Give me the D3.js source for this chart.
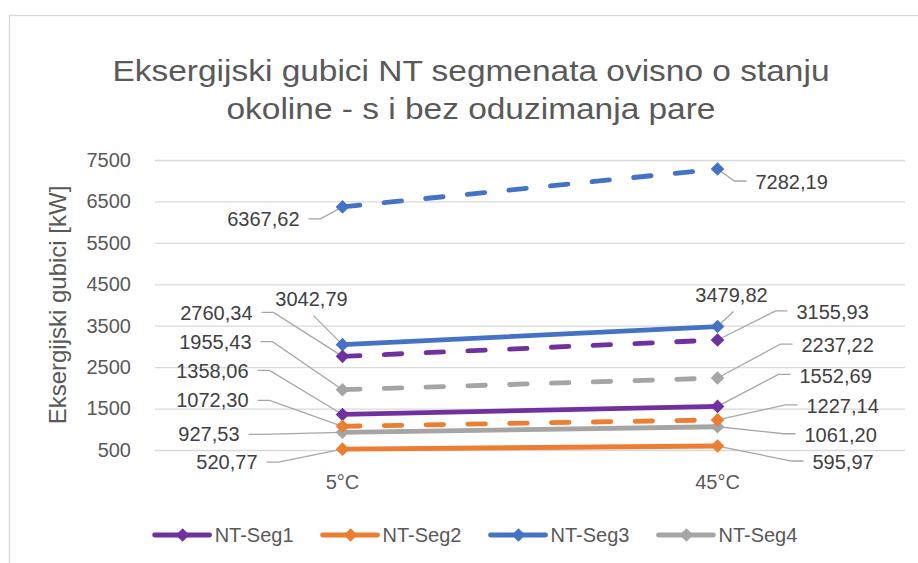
<!DOCTYPE html>
<html>
<head>
<meta charset="utf-8">
<script src="https://cdn.jsdelivr.net/npm/d3@7"></script>
<style>
  html, body { margin: 0; padding: 0; background: #fff; }
  svg { display: block; font-family: "Liberation Sans", Arial, sans-serif; }
</style>
</head>
<body>
<svg id="chart" width="918" height="563"></svg>
<script>
// Exergy losses of the NT segments at two ambient temperatures
const categories = ["5°C", "45°C"];
const seriesNames = ["NT-Seg1", "NT-Seg2", "NT-Seg3", "NT-Seg4"];
const seriesColors = ["#7030a0", "#ed7d31", "#4472c4", "#a5a5a5"];
// solid lines
const solidValues = [
  [1358.06, 1552.69],
  [520.77, 595.97],
  [3042.79, 3479.82],
  [927.53, 1061.20]
];
// dashed lines
const dashedValues = [
  [2760.34, 3155.93],
  [1072.30, 1227.14],
  [6367.62, 7282.19],
  [1955.43, 2237.22]
];
const yTicks = [500, 1500, 2500, 3500, 4500, 5500, 6500, 7500];
const titleLines = ["Eksergijski gubici NT segmenata ovisno o stanju", "okoline - s i bez oduzimanja pare"];
const yTitle = "Eksergijski gubici [kW]";

// Data-label placement: offset of the label from its marker, per series and category.
// side "l": text ends at dx; "r": text starts at dx; "t": text centred at dx above marker.
const solidLabelLayout = [
  [{side: "l", dx: -94, dy: -44}, {side: "r", dx: 82, dy: -31}],
  [{side: "l", dx: -85, dy: 13},  {side: "r", dx: 95, dy: 16}],
  [{side: "t", dx: -31, dy: -46}, {side: "t", dx: 14, dy: -32}],
  [{side: "l", dx: -103, dy: 2},  {side: "r", dx: 87, dy: 8}]
];
const dashedLabelLayout = [
  [{side: "l", dx: -90, dy: -44}, {side: "r", dx: 79, dy: -28}],
  [{side: "l", dx: -94, dy: -26}, {side: "r", dx: 89, dy: -14}],
  [{side: "l", dx: -43, dy: 12},  {side: "r", dx: 38, dy: 13}],
  [{side: "l", dx: -91, dy: -48}, {side: "r", dx: 84, dy: -33}]
];

const svg = d3.select("#chart");
const W = 918, H = 563;
const plot = {left: 155, right: 905, top: 160, bottom: 450};

const locale = d3.formatLocale({decimal: ",", thousands: "", grouping: [3], currency: ["", ""]});
const fmt = locale.format(".2f");

// chart area frame
svg.append("rect")
  .attr("x", 9.5).attr("y", 15.5)
  .attr("width", W + 20).attr("height", H + 20)
  .attr("fill", "#fff").attr("stroke", "#d9d9d9").attr("stroke-width", 1.3);

// title, condensed slightly so the first line spans 717px
const title = svg.append("g").attr("fill", "#595959");
const titleTexts = titleLines.map((t, i) =>
  title.append("text")
    .attr("x", 471).attr("y", 81 + i * 38)
    .attr("text-anchor", "middle")
    .attr("font-size", 30)
    .text(t)
);
const squeeze = 717 / titleTexts[0].node().getComputedTextLength();
titleTexts.forEach(t => {
  const n = t.node().getComputedTextLength();
  t.attr("textLength", n * squeeze).attr("lengthAdjust", "spacingAndGlyphs");
});

const x = d3.scaleBand().domain(categories).range([plot.left, plot.right]);
const y = d3.scaleLinear().domain([500, 7500]).range([plot.bottom, plot.top]);
const cx = c => x(c) + x.bandwidth() / 2;

// gridlines + y axis labels
const yAxis = d3.axisLeft(y).tickValues(yTicks).tickSize(-(plot.right - plot.left)).tickPadding(24).tickFormat(d3.format("d"));
const gy = svg.append("g").attr("transform", `translate(${plot.left},0)`).call(yAxis);
gy.select(".domain").remove();
gy.selectAll(".tick line").attr("stroke", "#d9d9d9").attr("stroke-width", 1.3);
gy.selectAll(".tick text").attr("fill", "#595959").attr("font-size", 20).attr("font-family", null);

// x axis labels
const xAxis = d3.axisBottom(x).tickSize(0).tickPadding(25);
const gx = svg.append("g").attr("transform", `translate(0,${plot.bottom})`).call(xAxis);
gx.select(".domain").remove();
gx.selectAll(".tick text").attr("fill", "#595959").attr("font-size", 20).attr("font-family", null);

// y axis title
svg.append("text")
  .attr("transform", `translate(66,${(plot.top + plot.bottom) / 2}) rotate(-90)`)
  .attr("text-anchor", "middle")
  .attr("fill", "#595959")
  .attr("font-size", 24)
  .text(yTitle);

const line = d3.line().x(d => cx(d.cat)).y(d => y(d.v));
const diamond = (r) => `M0,${-r}L${r},0L0,${r}L${-r},0Z`;

function drawSeries(values, dashed) {
  values.forEach((vals, i) => {
    const pts = vals.map((v, j) => ({cat: categories[j], v}));
    const g = svg.append("g");
    g.append("path")
      .datum(pts)
      .attr("d", line)
      .attr("fill", "none")
      .attr("stroke", seriesColors[i])
      .attr("stroke-width", 4.8)
      .attr("stroke-linecap", "round")
      .attr("stroke-dasharray", dashed ? "17.5 24.3" : null);
    g.selectAll("path.marker")
      .data(pts).join("path")
      .attr("class", "marker")
      .attr("transform", d => `translate(${cx(d.cat)},${y(d.v)})`)
      .attr("d", diamond(6.8))
      .attr("fill", seriesColors[i]);
  });
}

function drawLabels(values, layout) {
  const g = svg.append("g");
  values.forEach((vals, i) => {
    vals.forEach((v, j) => {
      const mx = cx(categories[j]), my = y(v);
      const L = layout[i][j];
      const tx = mx + L.dx, ty = my + L.dy;
      let pts, anchor;
      if (L.side === "l") {
        pts = [[tx + 9, ty], [tx + 21, ty], [mx, my]];
        anchor = "end";
      } else if (L.side === "r") {
        pts = [[tx - 9, ty - 1], [tx - 21, ty - 1], [mx, my]];
        anchor = "start";
      } else {
        pts = [[tx + 2, ty + 17], [mx, my]];
        anchor = "middle";
      }
      g.append("path")
        .attr("d", d3.line()(pts))
        .attr("fill", "none")
        .attr("stroke", "#a6a6a6")
        .attr("stroke-width", 1.3);
      g.append("text")
        .attr("x", tx).attr("y", ty).attr("dy", "0.36em")
        .attr("text-anchor", anchor)
        .attr("fill", "#404040")
        .attr("font-size", 20)
        .text(fmt(v));
    });
  });
}

drawLabels(solidValues, solidLabelLayout);
drawLabels(dashedValues, dashedLabelLayout);
drawSeries(solidValues, false);
drawSeries(dashedValues, true);

// legend
const legend = svg.append("g");
let lx = 0;
seriesNames.forEach((name, i) => {
  const it = legend.append("g");
  it.append("line").attr("x1", 0).attr("x2", 55).attr("y1", 0).attr("y2", 0)
    .attr("stroke", seriesColors[i]).attr("stroke-width", 4.8).attr("stroke-linecap", "round");
  it.append("path").attr("transform", "translate(28,0)").attr("d", diamond(6.8)).attr("fill", seriesColors[i]);
  const t = it.append("text").attr("x", 60).attr("dy", "0.36em")
    .attr("fill", "#595959").attr("font-size", 20).text(name);
  const w = 60 + t.node().getComputedTextLength();
  it.attr("transform", `translate(${lx},0)`);
  lx += w + 29;
});
const totalW = lx - 29;
legend.attr("transform", `translate(${476 - totalW / 2},535)`);
</script>
</body>
</html>
